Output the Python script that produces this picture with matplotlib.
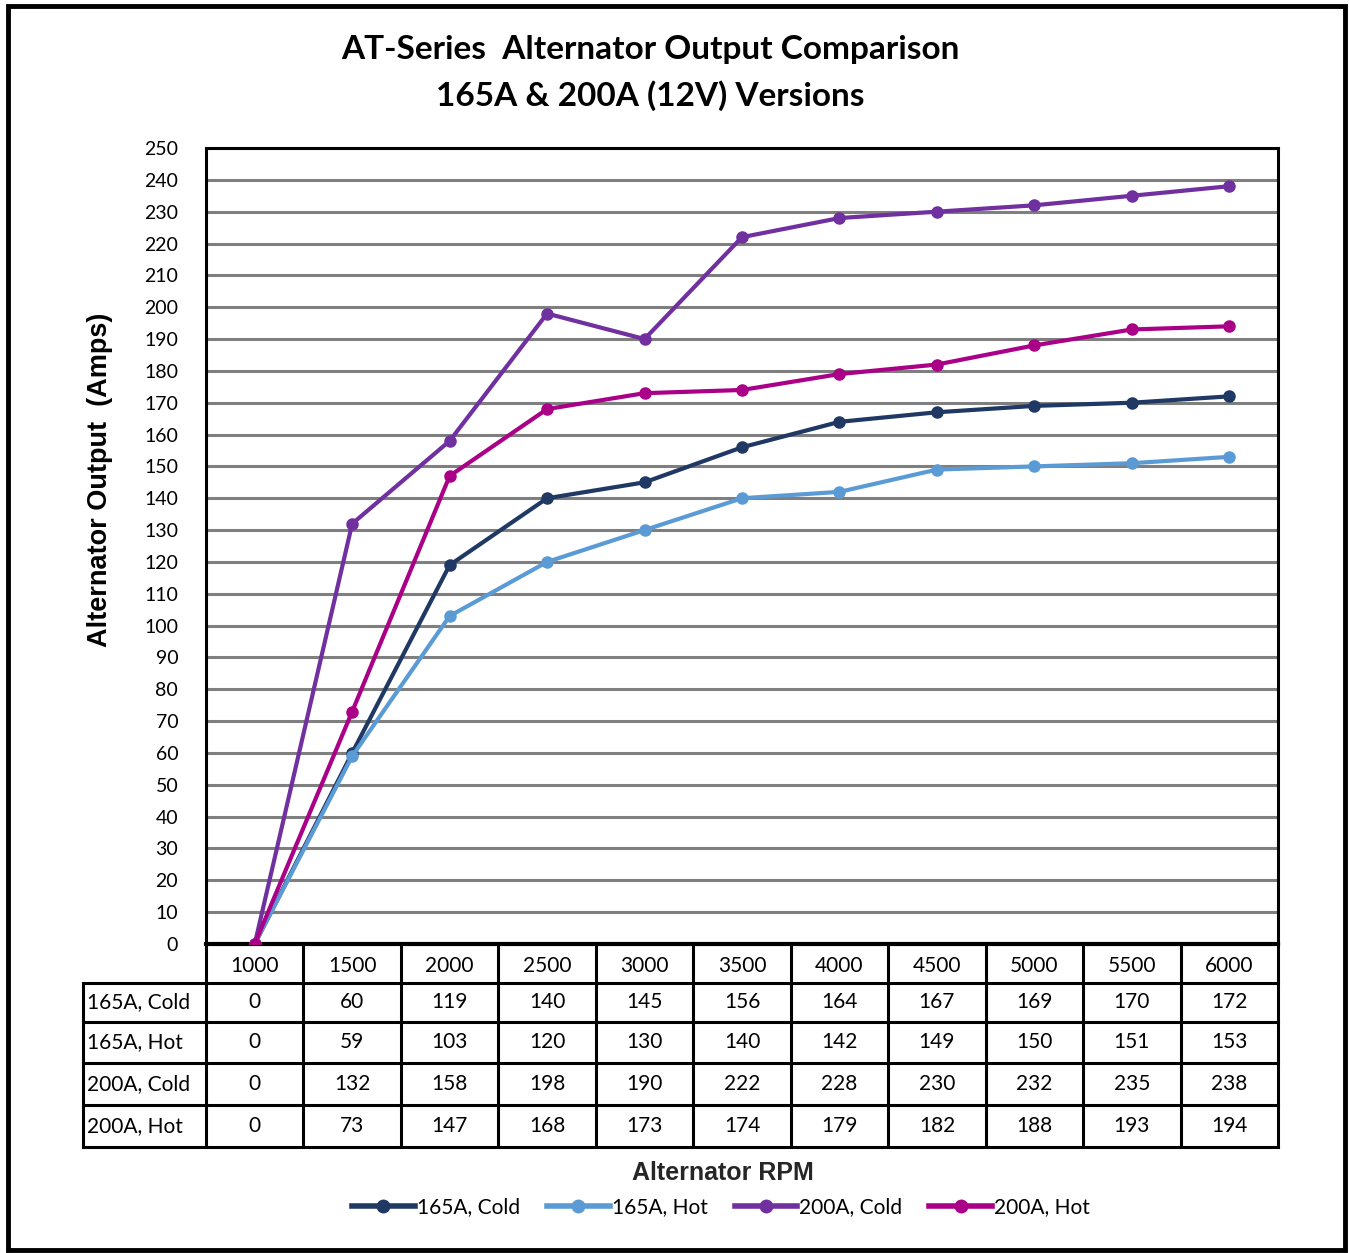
import matplotlib
matplotlib.use("Agg")
import matplotlib.pyplot as plt
from matplotlib.patches import Rectangle
from matplotlib.lines import Line2D
import matplotlib.transforms as mtransforms

rpm = ["1000", "1500", "2000", "2500", "3000", "3500", "4000", "4500", "5000", "5500", "6000"]
series_names = ["165A, Cold", "165A, Hot", "200A, Cold", "200A, Hot"]
cold_165 = [0, 60, 119, 140, 145, 156, 164, 167, 169, 170, 172]
hot_165 = [0, 59, 103, 120, 130, 140, 142, 149, 150, 151, 153]
cold_200 = [0, 132, 158, 198, 190, 222, 228, 230, 232, 235, 238]
hot_200 = [0, 73, 147, 168, 173, 174, 179, 182, 188, 193, 194]
colors = ["#1F3864", "#5B9BD5", "#7030A0", "#AA0088"]
yticks = list(range(0, 251, 10))

series = [cold_165, hot_165, cold_200, hot_200]

W, H = 1349, 1253
fig = plt.figure(figsize=(W / 100, H / 100), dpi=100)
body = ["Lato", "DejaVu Sans"]
bold = ["Liberation Sans", "DejaVu Sans"]

# outer border
fig.patches.append(Rectangle((8 / W, 1 - 1250 / H), (1345 - 8) / W, (1250 - 6) / H,
                             transform=fig.transFigure, fill=False, lw=3.5, ec="black"))

L, R, T, B = 206, 1278, 148, 944
ax = fig.add_axes([L / W, 1 - B / H, (R - L) / W, (B - T) / H])
x = list(range(len(rpm)))
for s, c, n in zip(series, colors, series_names):
    ax.plot(x, s, color=c, lw=3, marker="o", ms=8, label=n, solid_joinstyle="round", zorder=3)

ax.set_xlim(-0.5, len(rpm) - 0.5)
ax.set_ylim(0, 250)
ax.set_yticks(yticks)
ax.set_yticklabels([str(v) for v in yticks], fontsize=14, family=body)
ax.tick_params(axis="y", length=0, pad=20)
ax.tick_params(axis="x", length=0, labelbottom=False)
ax.yaxis.grid(True, color="#7F7F7F", lw=2.2)
ax.set_axisbelow(True)
for sp in ax.spines.values():
    sp.set_linewidth(2.2)
    sp.set_color("black")
ax.spines["bottom"].set_linewidth(3)

fig.text(100 / W, 1 - 480 / H, "Alternator Output  (Amps)", rotation=90, ha="center", va="center",
         fontsize=19.5, fontweight="bold", family=bold)

# table below the axes
tr = mtransforms.blended_transform_factory(ax.transData, ax.transAxes)
axh = B - T
def yf(py):
    return (B - py) / axh
row_edges = [944, 983, 1022, 1063, 1105, 1147]
ye = [yf(p) for p in row_edges]
label_left = -0.5 - (L - 83) / ((R - L) / len(rpm))
lk = dict(transform=tr, clip_on=False, color="black", lw=2.2)
ax.add_line(Line2D([-0.5, len(rpm) - 0.5], [ye[1], ye[1]], **lk))
ax.add_line(Line2D([label_left, -0.5], [ye[1], ye[1]], **lk))
for yy in ye[2:]:
    ax.add_line(Line2D([label_left, len(rpm) - 0.5], [yy, yy], **lk))
for i in range(len(rpm) + 1):
    ax.add_line(Line2D([i - 0.5, i - 0.5], [ye[0], ye[-1]], **lk))
ax.add_line(Line2D([label_left, label_left], [ye[1], ye[-1]], **lk))

tk = dict(transform=tr, ha="center", va="center", fontsize=15, family=body, clip_on=False)
for i, r in enumerate(rpm):
    ax.text(i, (ye[0] + ye[1]) / 2 - 0.003, r, **tk)
for j, (s, n) in enumerate(zip(series, series_names)):
    yc = (ye[j + 1] + ye[j + 2]) / 2
    ax.text(label_left + 0.04, yc, n, transform=tr, ha="left", va="center", fontsize=15,
            family=body, clip_on=False)
    for i, v in enumerate(s):
        ax.text(i, yc, str(v), **tk)

# titles
fig.text(650 / W, 1 - 50 / H, "AT-Series  Alternator Output Comparison", ha="center", va="center",
         fontsize=24, fontweight="bold", family=body)
fig.text(650 / W, 1 - 96 / H, "165A & 200A (12V) Versions", ha="center", va="center",
         fontsize=24, fontweight="bold", family=body)
fig.text(723 / W, 1 - 1173 / H, "Alternator RPM", ha="center", va="center",
         fontsize=18, fontweight="bold", family=bold, color="#262626")

handles = [Line2D([], [], color=c, lw=4, marker="o", ms=9) for c in colors]
leg = fig.legend(handles, series_names, loc="center", bbox_to_anchor=(721 / W, 1 - 1207 / H),
                 ncol=4, frameon=False, prop={"family": body, "size": 15},
                 handlelength=3, handletextpad=0.1, columnspacing=1.3)

fig.savefig("out.png", dpi=100, facecolor="white")
